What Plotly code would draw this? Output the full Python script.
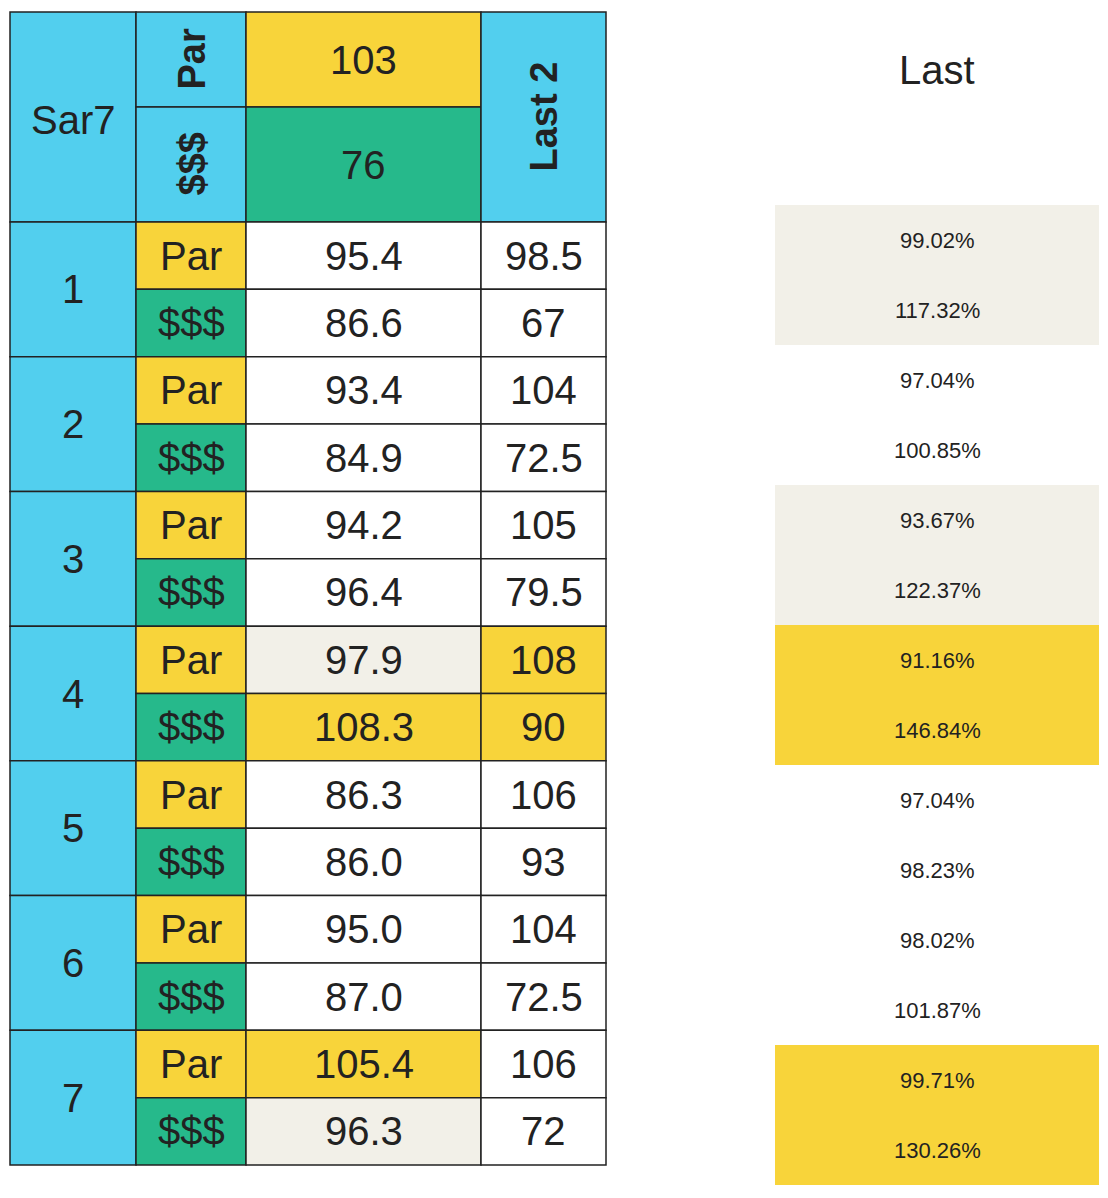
import plotly.graph_objects as go

holes = ["1", "2", "3", "4", "5", "6", "7"]
kinds = ["Par", "$$$"]
values = ["95.4", "86.6", "93.4", "84.9", "94.2", "96.4", "97.9", "108.3",
          "86.3", "86.0", "95.0", "87.0", "105.4", "96.3"]
last2 = ["98.5", "67", "104", "72.5", "105", "79.5", "108", "90",
         "106", "93", "104", "72.5", "106", "72"]
pct = ["99.02%", "117.32%", "97.04%", "100.85%", "93.67%", "122.37%", "91.16%",
       "146.84%", "97.04%", "98.23%", "98.02%", "101.87%", "99.71%", "130.26%"]
val_bg = ["w", "w", "w", "w", "w", "w", "b", "y", "w", "w", "w", "w", "y", "b"]
last_bg = ["w", "w", "w", "w", "w", "w", "y", "y", "w", "w", "w", "w", "w", "w"]
pct_bg = ["b", "b", "w", "w", "b", "b", "y", "y", "w", "w", "w", "w", "y", "y"]
header_par, header_cash = "103", "76"

CY, YE, GR, BE, WH = "#52cfee", "#f8d43a", "#26b98b", "#f2f0e8", "#ffffff"
cmap = {"w": WH, "y": YE, "b": BE}
xe = [10, 136, 246, 481, 606]
top, mid, hdr = 12, 107, 222
rh = (1165 - hdr) / 14
FONT = "Liberation Sans"

shapes, ann = [], []
def cell(x0, y0, x1, y1, fill, line=True):
    shapes.append(dict(type="rect", x0=x0, y0=y0, x1=x1, y1=y1, fillcolor=fill,
                       line=dict(color="#222" if line else fill, width=1.5 if line else 0), layer="below"))
def txt(x, y, t, size=40, bold=False, angle=0, color="#222"):
    ann.append(dict(x=x, y=y, text=f"<b>{t}</b>" if bold else t, showarrow=False,
                    textangle=angle, font=dict(size=size, color=color, family=FONT)))

# header
cell(xe[0], top, xe[1], hdr, CY); txt((xe[0]+xe[1])/2, 120, "Sar7", 40)
cell(xe[1], top, xe[2], mid, CY); txt((xe[1]+xe[2])/2, (top+mid)/2, "Par", 38, True, -90)
cell(xe[1], mid, xe[2], hdr, CY); txt((xe[1]+xe[2])/2, (mid+hdr)/2, "$$$", 38, True, -90)
cell(xe[2], top, xe[3], mid, YE); txt((xe[2]+xe[3])/2, (top+mid)/2, header_par)
cell(xe[2], mid, xe[3], hdr, GR); txt((xe[2]+xe[3])/2, (mid+hdr)/2, header_cash)
cell(xe[3], top, xe[4], hdr, CY); txt((xe[3]+xe[4])/2, (top+hdr)/2, "Last 2", 38, True, -90)

for h, lab in enumerate(holes):
    y0 = hdr + 2*h*rh
    cell(xe[0], y0, xe[1], y0 + 2*rh, CY); txt((xe[0]+xe[1])/2, y0 + rh, lab)
for i in range(14):
    y0 = hdr + i*rh; y1 = y0 + rh; yc = (y0+y1)/2
    k = kinds[i % 2]
    cell(xe[1], y0, xe[2], y1, YE if k == "Par" else GR); txt((xe[1]+xe[2])/2, yc, k)
    cell(xe[2], y0, xe[3], y1, cmap[val_bg[i]]); txt((xe[2]+xe[3])/2, yc, values[i])
    cell(xe[3], y0, xe[4], y1, cmap[last_bg[i]]); txt((xe[3]+xe[4])/2, yc, last2[i])
    py0 = 205 + i*70
    if pct_bg[i] != "w":
        cell(775, py0, 1099, py0 + 70, cmap[pct_bg[i]], line=False)
    txt(937, py0 + 35, pct[i], 22)
txt(937, 70, "Last", 40)

fig = go.Figure()
fig.update_layout(width=1108, height=1198, margin=dict(l=0, r=0, t=0, b=0),
                  plot_bgcolor="white", paper_bgcolor="white",
                  xaxis=dict(range=[8, 1116], visible=False, fixedrange=True),
                  yaxis=dict(range=[1206, 8], visible=False, fixedrange=True),
                  shapes=shapes, annotations=ann, showlegend=False)
fig.write_html("out.html")
